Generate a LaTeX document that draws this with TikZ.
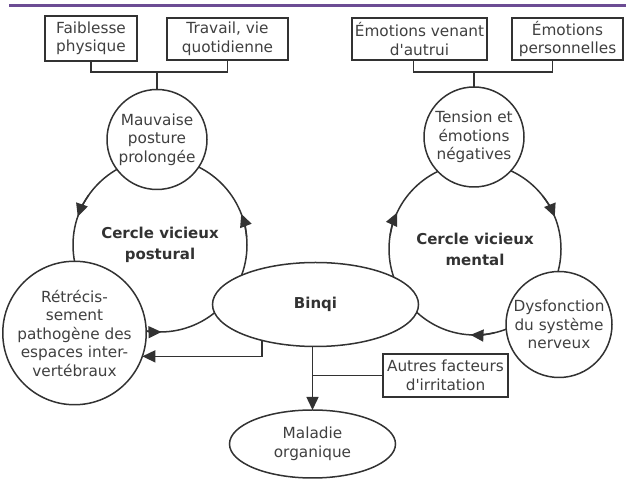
\documentclass[tikz,border=0pt]{standalone}
\usepackage{fontspec}
\setmainfont{DejaVu Sans}[Ligatures=TeXOff]
\usetikzlibrary{shapes.geometric, arrows.meta, positioning}
\definecolor{ink}{RGB}{50,50,50}
\definecolor{label}{RGB}{64,64,64}
\definecolor{bannerpurple}{RGB}{108,76,148}
\tikzset{
    every node/.style={
        font=\fontsize{15.3}{18.5}\selectfont, text=label
    },
    factor/.style={
        rectangle, draw=ink, line width=1.5pt, fill=white, minimum height=42pt, inner sep=0pt, outer sep=0pt, align=center
    },
    state/.style={
        circle, draw=ink, line width=1.5pt, fill=white, inner sep=0pt, outer sep=0pt, align=center
    },
    loopring/.style={
        circle, draw=ink, line width=1.5pt, inner sep=0pt, outer sep=0pt, align=center, text=ink,
        font=\bfseries\fontsize{15}{21}\selectfont
    },
    hub/.style={
        ellipse, draw=ink, line width=1.5pt, fill=white, minimum width=206pt, minimum height=84pt, inner sep=0pt, outer sep=0pt, text=ink,
        font=\bfseries\fontsize{15}{18.5}\selectfont
    },
    outcome/.style={
        ellipse, draw=ink, line width=1.5pt, fill=white, minimum width=166pt, minimum height=68pt, inner sep=0pt, outer sep=0pt, align=center
    },
    link/.style={
        draw=ink, line width=1.5pt
    },
    arrow/.style={
        draw=ink, line width=1.5pt, -{Triangle[length=13pt, width=12pt]}
    }
}

\begin{document}
\begin{tikzpicture}[x=1pt, y=1pt, >=stealth]
    \useasboundingbox (0,0) rectangle (626,481);

    % Banner
    \draw[draw=bannerpurple, line width=3pt] (9,475.5) -- (626,475.5);

    % Vicious circles (under everything else)
    \node[loopring, minimum size=174pt] (postural) at (160,236) {Cercle vicieux\\postural};
    \node[loopring, minimum size=172pt] (mental) at (475,232) {Cercle vicieux\\mental};

    % Heads on the rings
    \draw[arrow] ([shift={(145:87)}]postural.center) arc[start angle=145, end angle=161, radius=87];
    \draw[arrow] ([shift={(255:87)}]postural.center) arc[start angle=255, end angle=271, radius=87];
    \draw[arrow] ([shift={(5:87)}]postural.center) arc[start angle=5, end angle=21, radius=87];
    \draw[arrow] ([shift={(171:86)}]mental.center) arc[start angle=171, end angle=155, radius=86];
    \draw[arrow] ([shift={(38:86)}]mental.center) arc[start angle=38, end angle=22, radius=86];
    \draw[arrow] ([shift={(283:86)}]mental.center) arc[start angle=283, end angle=267, radius=86];

    % States
    \node[state, minimum size=100pt] (posture) at (157,341.5) {Mauvaise\\posture\\prolongée};
    \node[state, minimum size=112pt] (shrink) at (74.5,148) {Rétrécis-\\sement\\pathogène des\\espaces inter-\\vertébraux};
    \node[state, minimum size=100pt] (tension) at (474,344) {Tension et\\émotions\\négatives};
    \node[state, minimum size=106pt] (nerve) at (559,156.5) {Dysfonction\\du système\\nerveux};
    \node[hub] (binqi) at (315.5,176.5) {Binqi};
    \node[outcome] (organ) at (312.5,37) {Maladie\\organique};

    % Causes
    \node[factor, minimum width=92pt, minimum height=45pt] (weak) at (91,442.5) {Faiblesse\\physique};
    \node[factor, minimum width=121pt] (work) at (227.5,442) {Travail, vie\\quotidienne};
    \node[factor, minimum width=135pt] (others) at (419.5,442) {Émotions venant\\d'autrui};
    \node[factor, minimum width=111pt] (own) at (567.5,442) {Émotions\\personnelles};
    \node[factor, minimum width=125pt, minimum height=43pt] (irritant) at (445.5,105.5) {Autres facteurs\\d'irritation};

    % Relationships
    \coordinate (pj) at (157,409);
    \coordinate (mj) at (474,409);
    \draw[link] (weak.south) |- (pj) -| (work.south);
    \draw[link] (pj) -- (posture.north);
    \draw[link] ([xshift=-6pt]others.south) |- (mj) -| ([xshift=-15pt]own.south);
    \draw[link] (mj) -- (tension.north);
    \draw[arrow] (binqi.214) |- (shrink.-19);
    \draw[arrow] (binqi.south -| organ.north) -- (organ.north);
    \draw[link] (irritant.west) -- (irritant.west -| organ.north);

\end{tikzpicture}
\end{document}
